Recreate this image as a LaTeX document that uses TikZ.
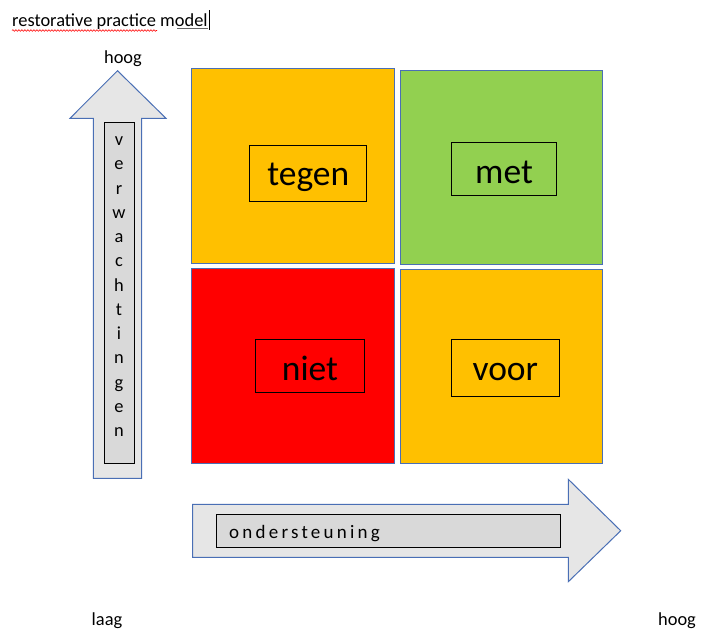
\documentclass[tikz,border=0pt]{standalone}
\usepackage{fontspec}
\setmainfont{Carlito}
\usetikzlibrary{decorations.pathmorphing}
\definecolor{qorange}{HTML}{FFC000}
\definecolor{qgreen}{HTML}{92D050}
\definecolor{qred}{HTML}{FF0000}
\definecolor{qblue}{HTML}{4A6FB5}
\definecolor{arrowgray}{HTML}{E6E6E6}
\definecolor{innergray}{HTML}{D9D9D9}
\begin{document}
\begin{tikzpicture}[x=1pt,y=-1pt,
  quad/.style={draw=qblue, line width=1pt},
  wordbox/.style={draw=black, line width=1pt, font=\fontsize{35.5}{40}\selectfont, inner sep=0pt, text depth=0pt},
  small/.style={font=\fontsize{18.4}{22}\selectfont, inner sep=0pt},
  arrowshape/.style={draw=qblue, line width=1pt, fill=arrowgray},
  innerbox/.style={draw=black, line width=1pt, fill=innergray}]
\useasboundingbox[fill=white] (0,0) rectangle (708,630);

% title
\node[small, anchor=base west] (title) at (12,26) {restorative practice model};
\draw[red, line width=0.6pt, decorate, decoration={snake, amplitude=0.8pt, segment length=3pt}] (12,30.5) -- (157,30.5);
\draw[gray!80!black, line width=0.6pt] (177,28.5) -- (208,28.5);
\draw[black, line width=0.9pt] (209.5,10) -- (209.5,30);

% quadrants
\path[quad, fill=qorange] (191.7,68.3) rectangle (394,263.3);
\path[quad, fill=qgreen] (400,70) rectangle (602.7,264.3);
\path[quad, fill=qred] (191.7,268.3) rectangle (394,463.3);
\path[quad, fill=qorange] (400,269) rectangle (602.7,463.3);

\node[wordbox, text height=24pt, minimum width=116.7pt, minimum height=56pt] (tegen) at (308.3,173) {tegen};
\node[wordbox, text height=29pt, minimum width=105.3pt, minimum height=53pt] (met) at (504,168.5) {met};
\node[wordbox, text height=30pt, minimum width=108.6pt, minimum height=53pt] (niet) at (310,365.8) {niet};
\node[wordbox, text height=26pt, minimum width=108pt, minimum height=56.7pt] (voor) at (505.3,367.7) {voor};

% vertical arrow
\draw[arrowshape] (93.3,478.3) -- (93.3,118.3) -- (70,118.3) -- (117.5,70.7) -- (166,118.3) -- (141.7,118.3) -- (141.7,478.3) -- cycle;
\draw[innerbox] (104.3,122.7) rectangle (134,463);
\foreach \c [count=\i from 0] in {v,e,r,w,a,c,h,t,i,n,g,e,n}
  \node[small, anchor=base] (vl\i) at (119,{145.5+24.25*\i}) {\c};

% horizontal arrow
\draw[arrowshape] (192.7,504.3) -- (568.3,504.3) -- (568.3,479.3) -- (620.7,530.7) -- (568.3,581.7) -- (568.3,557.3) -- (192.7,557.3) -- cycle;
\draw[innerbox] (216.7,514.3) rectangle (560,547.3);
\node[small, anchor=base west, font=\fontsize{19}{22}\selectfont\addfontfeature{LetterSpace=17}] (onder) at (229,538) {ondersteuning};

% axis labels
\node[small, anchor=base] (hoogtop) at (123,63) {hoog};
\node[small, anchor=base] (laag) at (107,625) {laag};
\node[small, anchor=base] (hoogright) at (677,625) {hoog};
\end{tikzpicture}
\end{document}
